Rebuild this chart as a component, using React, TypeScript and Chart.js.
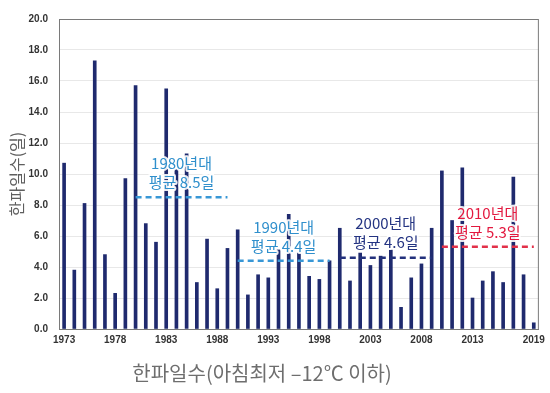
import React, { useEffect, useRef } from "react";
import { Chart, registerables } from "chart.js";

Chart.register(...registerables);

const years: number[] = [];
for (let y = 1973; y <= 2019; y++) years.push(y);

const coldDays: number[] = [
  10.7, 3.8, 8.1, 17.3, 4.8, 2.3, 9.7, // 1973-1979
  15.7, 6.8, 5.6, 15.5, 10.3, 11.3, 3.0, 5.8, 2.6, 5.2, // 1980-1989
  6.4, 2.2, 3.5, 3.3, 5.1, 7.4, 4.9, 3.4, 3.2, 4.4, // 1990-1999
  6.5, 3.1, 4.9, 4.1, 4.7, 5.1, 1.4, 3.3, 4.2, 6.5, // 2000-2009
  10.2, 7.0, 10.4, 2.0, 3.1, 3.7, 3.0, 9.8, 3.5, 0.4, // 2010-2019
];

const shownTickYears: number[] = [1973, 1978, 1983, 1988, 1993, 1998, 2003, 2008, 2013, 2019];

const decadeStarts: number[] = [1980, 1990, 2000, 2010];
const decadeEnds: number[] = [1989, 1999, 2009, 2019];
const decadeAverages: number[] = [8.5, 4.4, 4.6, 5.3];
const decadeTitles: string[] = ["1980년대", "1990년대", "2000년대", "2010년대"];
const decadeAvgLabels: string[] = ["평균 8.5일", "평균 4.4일", "평균 4.6일", "평균 5.3일"];
const decadeLineColors: string[] = ["#3897d6", "#3897d6", "#23317c", "#e23049"];
const decadeTextColors: string[] = ["#2f8fcc", "#2f8fcc", "#243482", "#e3193f"];

const yAxisTitle = "한파일수(일)";
const xAxisTitle = "한파일수(아침최저 –12℃ 이하)";

const KFONT = "'Noto Sans CJK KR', 'Noto Sans', sans-serif";

export default function App() {
  const ref = useRef<HTMLCanvasElement | null>(null);

  useEffect(() => {
    if (!ref.current) return;
    const labels = years.map(String);

    const lineSets = decadeStarts.map((s, i) => ({
      type: "line" as const,
      label: decadeTitles[i],
      data: years.map((y) => (y >= s && y <= decadeEnds[i] ? decadeAverages[i] : null)),
      borderColor: decadeLineColors[i],
      borderWidth: 2.5,
      borderDash: [6, 4],
      pointRadius: 0,
      fill: false,
      spanGaps: false,
      order: 1,
    }));

    const annotPlugin = {
      id: "annot",
      beforeDatasetsDraw(chart: any) {
        const { ctx, chartArea } = chart;
        ctx.save();
        ctx.strokeStyle = "#7a7a7a";
        ctx.lineWidth = 1;
        ctx.strokeRect(chartArea.left + 0.5, chartArea.top + 0.5, chartArea.right - chartArea.left - 1, chartArea.bottom - chartArea.top);
        ctx.restore();
      },
      afterDatasetsDraw(chart: any) {
        const { ctx } = chart;
        const xs = chart.scales.x;
        const ys = chart.scales.y;
        ctx.save();
        ctx.font = `15px ${KFONT}`;
        ctx.textAlign = "center";
        ctx.textBaseline = "middle";
        decadeStarts.forEach((s, i) => {
          const x0 = xs.getPixelForValue(years.indexOf(s));
          const x1 = xs.getPixelForValue(years.indexOf(decadeEnds[i]));
          const cx = (x0 + x1) / 2;
          const ly = ys.getPixelForValue(decadeAverages[i]);
          [[decadeTitles[i], ly - 34], [decadeAvgLabels[i], ly - 15]].forEach(([t, yy]) => {
            ctx.lineWidth = 4;
            ctx.strokeStyle = "rgba(255,255,255,0.9)";
            ctx.lineJoin = "round";
            ctx.strokeText(t as string, cx, yy as number);
            ctx.fillStyle = decadeTextColors[i];
            ctx.fillText(t as string, cx, yy as number);
          });
        });
        ctx.restore();
      },
      afterDraw(chart: any) {
        const { ctx, chartArea } = chart;
        ctx.save();
        ctx.font = `20px ${KFONT}`;
        ctx.fillStyle = "#6e6e6e";
        ctx.textAlign = "center";
        ctx.textBaseline = "middle";
        ctx.fillText(xAxisTitle, chartArea.left + 203, chartArea.bottom + 44);
        ctx.restore();
      },
    };

    const chart = new Chart(ref.current, {
      type: "bar",
      data: {
        labels,
        datasets: [
          {
            type: "bar" as const,
            label: "한파일수",
            data: coldDays,
            backgroundColor: "#1f2a6e",
            barThickness: 3,
            order: 2,
          } as any,
          ...lineSets,
        ],
      },
      options: {
        animation: false,
        responsive: false,
        maintainAspectRatio: false,
        layout: { padding: { left: 0, right: 10, top: 19, bottom: 0 } },
        plugins: {
          legend: { display: false },
          tooltip: { enabled: false },
        },
        scales: {
          x: {
            offset: true,
            grid: { display: false, drawTicks: false },
            border: { display: true, color: "#7a7a7a" },
            ticks: {
              autoSkip: false,
              maxRotation: 0,
              minRotation: 0,
              padding: 5,
              color: "#333333",
              font: { family: "'Liberation Sans', Arial, sans-serif", size: 10, weight: "bold" },
              callback: (_v: any, i: number) => (shownTickYears.includes(years[i]) ? String(years[i]) : ""),
            },
            afterFit: (s: any) => {
              s.height = 64;
            },
          },
          y: {
            min: 0,
            max: 20,
            grid: { color: "#e8e8e8", drawTicks: false },
            border: { display: true, color: "#7a7a7a" },
            ticks: {
              stepSize: 2,
              padding: 11,
              color: "#333333",
              font: { family: "'Liberation Sans', Arial, sans-serif", size: 10, weight: "bold" },
              callback: (v: any) => Number(v).toFixed(1),
            },
            title: {
              display: true,
              text: yAxisTitle,
              color: "#5e5e5e",
              font: { family: KFONT, size: 16 },
              padding: { top: 7, bottom: 0 },
            },
            afterFit: (s: any) => {
              s.width = 59;
            },
          },
        },
      },
      plugins: [annotPlugin],
    } as any);

    return () => chart.destroy();
  }, []);

  return (
    <div style={{ position: "fixed", left: 0, top: 0, width: 550, height: 393, background: "#ffffff" }}>
      <canvas ref={ref} width={550} height={393} style={{ width: 550, height: 393 }} />
    </div>
  );
}
